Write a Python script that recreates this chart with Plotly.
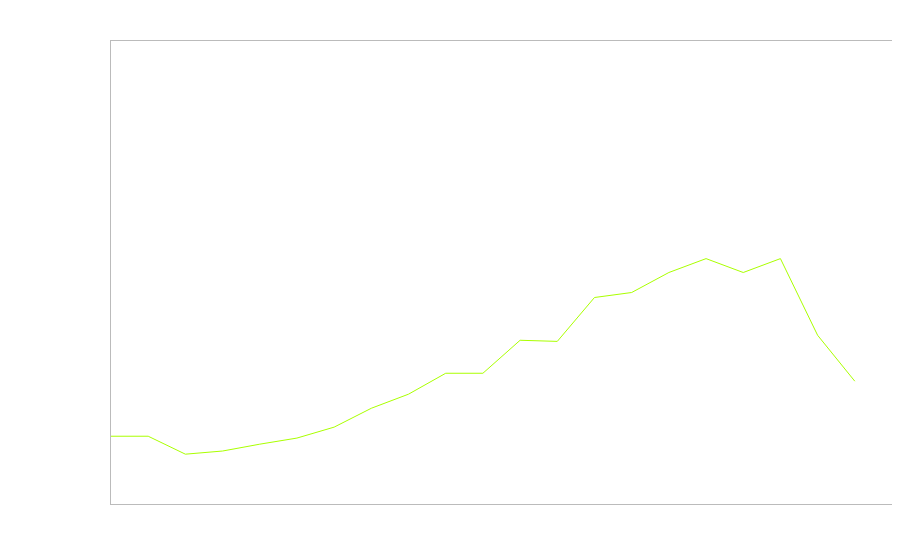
import plotly.graph_objects as go

periods = list(range(21))
values = [3.66, 3.66, 2.69, 2.86, 3.23, 3.56, 4.15, 5.17, 5.93, 7.06, 7.06,
          8.84, 8.78, 11.15, 11.42, 12.50, 13.25, 12.50, 13.25, 9.11, 6.63]

fig = go.Figure(
    go.Scatter(
        x=periods,
        y=values,
        mode="lines",
        line=dict(color="#aaff00", width=1),
        hoverinfo="skip",
    )
)

axis_style = dict(
    showgrid=False,
    zeroline=False,
    showticklabels=False,
    ticks="",
    showline=True,
    linecolor="#bbbbbb",
    linewidth=1,
    mirror=True,
)

# the page body adds an 8px offset, so margins are trimmed to match
fig.update_layout(
    width=900,
    height=560,
    margin=dict(l=103, r=16, t=33, b=64),
    paper_bgcolor="white",
    plot_bgcolor="white",
    showlegend=False,
    xaxis=dict(range=[0, 21], **axis_style),
    yaxis=dict(range=[0, 25], **axis_style),
)

fig.write_html("out.html")
